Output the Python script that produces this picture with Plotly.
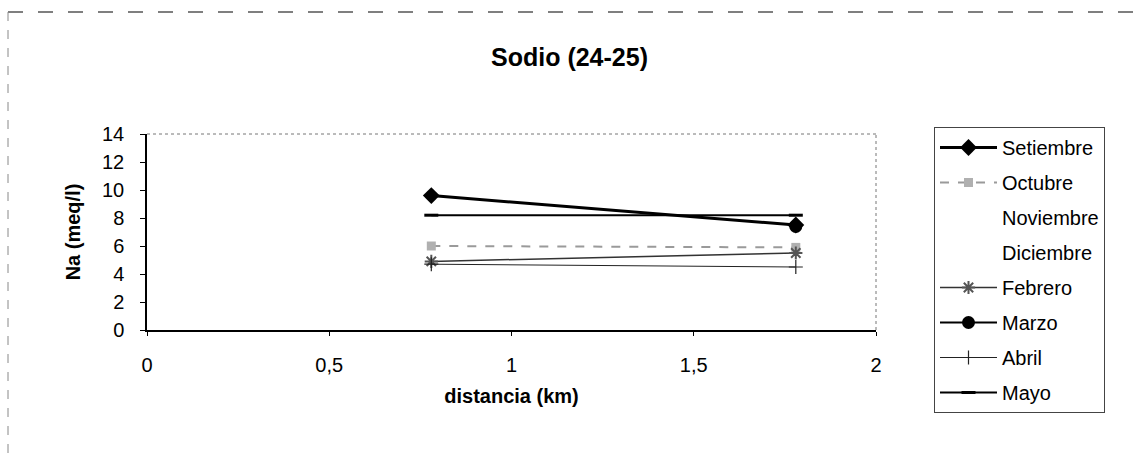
import plotly.graph_objects as go

distancia = [0.78, 1.78]
series_names = ["Setiembre", "Octubre", "Noviembre", "Diciembre", "Febrero", "Marzo", "Abril", "Mayo"]
setiembre = [9.6, 7.5]
octubre = [6.0, 5.9]
noviembre = [None, None]
diciembre = [None, None]
febrero = [4.9, 5.5]
marzo = [None, 7.4]
abril = [4.7, 4.5]
mayo = [8.2, 8.2]
x_ticks = [0, 0.5, 1, 1.5, 2]
y_ticks = [0, 2, 4, 6, 8, 10, 12, 14]

values = [setiembre, octubre, noviembre, diciembre, febrero, marzo, abril, mayo]
styles = [
    dict(line=dict(color="black", width=3), marker=dict(symbol="diamond", size=13, color="black")),
    dict(line=dict(color="#9a9a9a", width=2, dash="dash"), marker=dict(symbol="square", size=9, color="#b0b0b0")),
    dict(line=dict(color="rgba(0,0,0,0)", width=1), marker=dict(size=1, color="rgba(0,0,0,0)")),
    dict(line=dict(color="rgba(0,0,0,0)", width=1), marker=dict(size=1, color="rgba(0,0,0,0)")),
    dict(line=dict(color="#333333", width=1.5), marker=dict(symbol="asterisk-open", size=11, color="#555555", line=dict(width=2, color="#555555"))),
    dict(line=dict(color="black", width=2), marker=dict(symbol="circle", size=13, color="black")),
    dict(line=dict(color="#222222", width=1), marker=dict(symbol="cross-thin-open", size=10, line=dict(width=1.2, color="#222222"))),
    dict(line=dict(color="black", width=2), marker=dict(symbol="line-ew-open", size=10, line=dict(width=3, color="black"))),
]

fig = go.Figure()
for name, vals, st in zip(series_names, values, styles):
    fig.add_trace(go.Scatter(
        x=distancia, y=vals, name=name, mode="lines+markers",
        line=st["line"], marker=st["marker"], legendgroup=name,
    ))

W, H = 1139, 459
L, R, T, B = 147, 876, 134, 330


def px_x(p):
    return (p - L) / (R - L)


def px_y(p):
    return (B - p) / (B - T)


shapes = [
    dict(type="line", xref="paper", yref="paper", x0=0, x1=1, y0=1, y1=1,
         line=dict(color="#777777", width=1, dash="dot")),
    dict(type="line", xref="paper", yref="paper", x0=1, x1=1, y0=0, y1=1,
         line=dict(color="#777777", width=1, dash="dot")),
    dict(type="line", xref="paper", yref="paper", x0=px_x(8), x1=px_x(1136), y0=px_y(12), y1=px_y(12),
         line=dict(color="#555555", width=1.5, dash="longdash")),
    dict(type="line", xref="paper", yref="paper", x0=px_x(8), x1=px_x(8), y0=px_y(12), y1=px_y(455),
         line=dict(color="#888888", width=1, dash="dash")),
]

fig.update_layout(
    width=W, height=H,
    margin=dict(l=L, r=W - R, t=T, b=H - B, pad=0),
    paper_bgcolor="white", plot_bgcolor="white",
    separators=",.",
    font=dict(family="Arial, Liberation Sans, sans-serif", size=19, color="black"),
    title=dict(text="<b>Sodio (24-25)</b>", x=0.5, xref="container", xanchor="center",
               y=1 - 57 / H, yanchor="middle", font=dict(size=25, color="black")),
    showlegend=True,
    legend=dict(
        x=px_x(934), y=px_y(127), xanchor="left", yanchor="top",
        bordercolor="#444444", borderwidth=1, bgcolor="white",
        font=dict(size=20), tracegroupgap=6, itemwidth=57, maxheight=420,
    ),
    shapes=shapes,
)
fig.update_xaxes(
    range=[0, 2], tickvals=x_ticks, showgrid=False, zeroline=False,
    showline=True, linecolor="black", linewidth=1.5,
    ticks="outside", ticklen=4, tickcolor="black", ticklabelstandoff=12,
    title=dict(text="<b>distancia (km)</b>", standoff=14, font=dict(size=20)),
    tickfont=dict(size=20),
)
fig.update_yaxes(
    range=[0, 14], tickvals=y_ticks, showgrid=False, zeroline=False,
    showline=True, linecolor="black", linewidth=1.5,
    ticks="outside", ticklen=5, tickcolor="black", ticklabelstandoff=12,
    title=dict(text="<b>Na (meq/l)</b>", standoff=16, font=dict(size=20)),
    tickfont=dict(size=20),
)

fig.write_html("out.html")
